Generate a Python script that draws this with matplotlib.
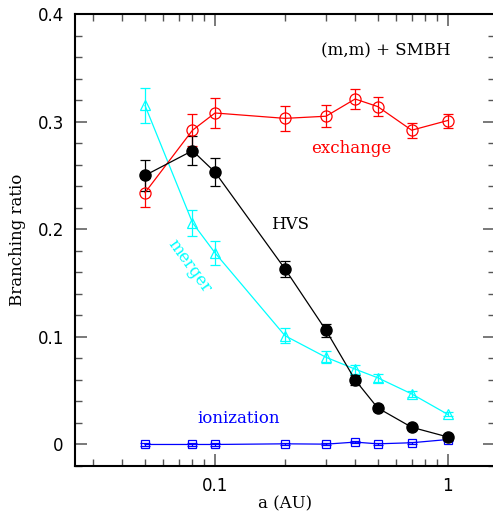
import numpy as np
import matplotlib
matplotlib.use('Agg')
import matplotlib.pyplot as plt
from matplotlib.ticker import FixedLocator, NullFormatter, MultipleLocator, FixedFormatter

a = [0.05, 0.08, 0.1, 0.2, 0.3, 0.4, 0.5, 0.7, 1.0]

exchange = [0.234, 0.292, 0.308, 0.303, 0.305, 0.321, 0.314, 0.292, 0.301]
exchange_err = [0.0135, 0.015, 0.014, 0.0115, 0.010, 0.0095, 0.0085, 0.0068, 0.0065]

hvs = [0.250, 0.273, 0.253, 0.163, 0.106, 0.060, 0.034, 0.016, 0.007]
hvs_err = [0.0143, 0.0135, 0.0128, 0.0075, 0.0058, 0.0047, 0.003, 0.002, 0.002]

merger = [0.315, 0.206, 0.178, 0.101, 0.081, 0.070, 0.062, 0.047, 0.028]
merger_err = [0.016, 0.012, 0.011, 0.007, 0.0054, 0.0043, 0.0037, 0.003, 0.002]

ionization = [0.0, 0.0, 0.0, 0.0006, 0.0003, 0.0022, 0.0006, 0.0016, 0.0046]
ionization_err = [0.001, 0.001, 0.001, 0.001, 0.001, 0.001, 0.001, 0.001, 0.001]

fig = plt.figure(figsize=(4.93, 5.14), dpi=100)
ax = fig.add_axes([0.1521, 0.0934, 0.851, 0.8794])

kw = dict(capsize=3.8, elinewidth=0.9, linewidth=0.9, capthick=0.9)
ax.errorbar(a, ionization, yerr=ionization_err, color='#0000ff', marker='s',
            markersize=6, markerfacecolor='none', markeredgewidth=0.9, **kw)
ax.errorbar(a, merger, yerr=merger_err, color='#00ffff', marker='^',
            markersize=7, markerfacecolor='none', markeredgewidth=0.9, **kw)
ax.errorbar(a, exchange, yerr=exchange_err, color='#ff0000', marker='o',
            markersize=8, markerfacecolor='none', markeredgewidth=0.9, **kw)
ax.errorbar(a, hvs, yerr=hvs_err, color='black', marker='o',
            markersize=8, markerfacecolor='black', **kw)

ax.set_xscale('log')
ax.set_xlim(0.025, 1.59)
ax.set_ylim(-0.02, 0.4)

ax.xaxis.set_major_locator(FixedLocator([0.1, 1.0]))
ax.xaxis.set_major_formatter(FixedFormatter(['0.1', '1']))
minors = [0.03, 0.04, 0.05, 0.06, 0.07, 0.08, 0.09,
          0.2, 0.3, 0.4, 0.5, 0.6, 0.7, 0.8, 0.9]
ax.xaxis.set_minor_locator(FixedLocator(minors))
ax.xaxis.set_minor_formatter(NullFormatter())
ax.yaxis.set_major_locator(FixedLocator([0, 0.1, 0.2, 0.3, 0.4]))
ax.yaxis.set_major_formatter(FixedFormatter(['0', '0.1', '0.2', '0.3', '0.4']))
ax.yaxis.set_minor_locator(MultipleLocator(0.02))

ax.tick_params(which='both', direction='in', top=True, right=True,
               color='#555555', labelsize=12, pad=8)
ax.tick_params(which='major', length=8.6, width=1.1)
ax.tick_params(which='minor', length=5, width=1.0)
for s in ax.spines.values():
    s.set_linewidth(1.5)

serif = 'DejaVu Serif'
ax.set_xlabel('a (AU)', fontsize=12, family=serif, labelpad=0)
ax.set_ylabel('Branching ratio', fontsize=12, family=serif, labelpad=8)

ax.text(1.033, 0.366, '(m,m) + SMBH', fontsize=12, family=serif,
        ha='right', va='center')
ax.text(0.384, 0.275, 'exchange', fontsize=12, family=serif, color='#ff0000',
        ha='center', va='center')
ax.text(0.21, 0.2045, 'HVS', fontsize=12, family=serif, ha='center', va='center')
ax.text(0.078, 0.166, 'merger', fontsize=12, family=serif, color='#00ffff',
        ha='center', va='center', rotation=-54)
ax.text(0.1268, 0.0245, 'ionization', fontsize=12, family=serif, color='#0000ff',
        ha='center', va='center')

fig.savefig('out.png', dpi=100)
